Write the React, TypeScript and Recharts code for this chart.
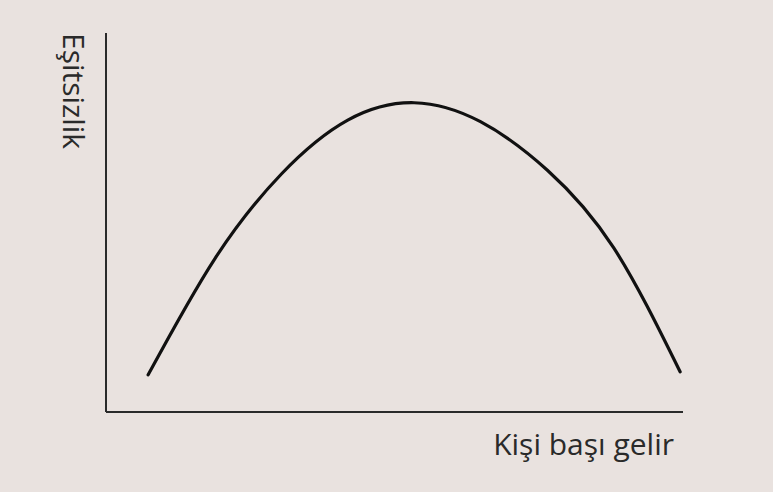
import { Label, Line, LineChart, XAxis, YAxis } from "recharts";

// Kuznets curve: inequality against income per head (evenly spaced income steps)
const incomeLevels = [7.3, 18.8, 30.4, 41.9, 53.4, 64.9, 76.5, 88.0, 99.5];
const inequality = [9.8, 40.3, 62.8, 77.0, 81.6, 76.6, 63.8, 43.3, 10.6];

const xTitle = "Kişi başı gelir";
const yTitle = "Eşitsizlik";

const data = incomeLevels.map((x, i) => ({ x, y: inequality[i] }));

const BG = "#e9e2df";
const INK = "#2a2a2a";
const FONT = "'Open Sans', sans-serif";

export default function App() {
  return (
    <div
      style={{
        position: "absolute",
        left: 0,
        top: 0,
        width: 773,
        height: 492,
        background: BG,
      }}
    >
      <LineChart
        width={773}
        height={492}
        data={data}
        margin={{ top: 33, right: 90, bottom: 79, left: 105 }}
      >
        <XAxis
          type="number"
          dataKey="x"
          domain={[0, 100]}
          ticks={[]}
          tick={false}
          tickLine={false}
          height={1}
          axisLine={{ stroke: INK, strokeWidth: 2 }}
        >
          <Label
            content={(props: any) => {
              const vb = props.viewBox || {};
              return (
                <text
                  x={vb.x + vb.width - 9}
                  y={vb.y + 43}
                  textAnchor="end"
                  fontFamily={FONT}
                  fontSize={30}
                  fill={INK}
                >
                  {xTitle}
                </text>
              );
            }}
          />
        </XAxis>
        <YAxis
          type="number"
          domain={[0, 100]}
          ticks={[]}
          tick={false}
          tickLine={false}
          width={1}
          axisLine={{ stroke: INK, strokeWidth: 2 }}
        >
          <Label
            content={(props: any) => {
              const vb = props.viewBox || {};
              const tx = vb.x + vb.width - 43;
              const ty = vb.y;
              return (
                <text
                  x={tx}
                  y={ty}
                  transform={`rotate(90, ${tx}, ${ty})`}
                  textAnchor="start"
                  fontFamily={FONT}
                  fontSize={30}
                  fill={INK}
                >
                  {yTitle}
                </text>
              );
            }}
          />
        </YAxis>
        <Line
          type="natural"
          dataKey="y"
          stroke="#111"
          strokeWidth={3.2}
          strokeLinecap="round"
          dot={false}
          isAnimationActive={false}
        />
      </LineChart>
    </div>
  );
}
